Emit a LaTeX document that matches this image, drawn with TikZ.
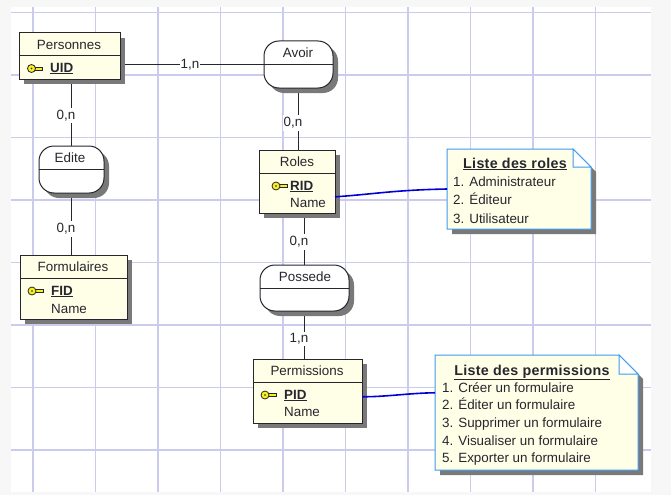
\documentclass[tikz,border=0pt]{standalone}
\usepackage{fontspec}
\setmainfont{Liberation Sans}
\usetikzlibrary{backgrounds,shadows}
\definecolor{gridcol}{HTML}{CBCBEE}
\definecolor{boxfill}{HTML}{FFFFE8}
\definecolor{inkcol}{HTML}{26262E}
\definecolor{notecol}{HTML}{3D9BF2}
\definecolor{keycol}{HTML}{F8EE20}
\tikzset{
	txt/.style={text=inkcol,inner sep=0pt,font=\fontsize{13.4}{15}\selectfont},
	shade5/.style={drop shadow={shadow xshift=5pt,shadow yshift=-5pt,fill=gray!95!black,opacity=1}},
	entity/.style={draw=inkcol,fill=boxfill,line width=1pt,inner sep=0pt,outer sep=0pt,shade5},
	assoc/.style={draw=inkcol,fill=white,line width=1pt,rounded corners=15pt,inner sep=0pt,outer sep=0pt,shade5},
	field/.style={txt,anchor=base west},
	keyfield/.style={txt,anchor=base west,font=\fontsize{13.4}{15}\selectfont\bfseries},
	notehead/.style={txt,anchor=base,font=\fontsize{14.3}{15}\selectfont\bfseries\addfontfeature{LetterSpace=2}},
	card/.style={txt,fill=white,inner xsep=1pt,inner ysep=2pt},
	link/.style={draw=inkcol,line width=1pt},
	notelink/.style={draw=blue!85!black,line width=1.6pt},
	notebox/.style={draw=notecol,fill=boxfill,line width=1pt,shade5},
	keyicon/.pic={
		\draw[inkcol,fill=keycol,line width=.6pt] (2,-1.7) rectangle (11,1.7);
		\draw[inkcol,fill=keycol,line width=.8pt] (0,0) circle (4);
		\fill[inkcol] (0,0) circle (.9);
	}
}

\begin{document}
\begin{tikzpicture}[x=1pt,y=-1pt]
\useasboundingbox (0,0) rectangle (671,495);

% entities and associations
\node[entity,minimum width=101pt,minimum height=46pt] (pers) at (69.5,56) {};
\node[assoc,minimum width=69pt,minimum height=47pt] (avoir) at (298.5,64.5) {};
\node[assoc,minimum width=65pt,minimum height=47pt] (edite) at (71.5,169.5) {};
\node[entity,minimum width=76pt,minimum height=63pt] (roles) at (297,181.5) {};
\node[entity,minimum width=107pt,minimum height=64pt] (form) at (73.5,287) {};
\node[assoc,minimum width=89pt,minimum height=46pt] (poss) at (304.5,288) {};
\node[entity,minimum width=109pt,minimum height=64pt] (perm) at (307.5,391) {};

% dividers
\draw[link] (pers.west) -- (pers.east);
\draw[link] (avoir.west) -- (avoir.east);
\draw[link] (edite.west) -- (edite.east);
\draw[link] (poss.west) -- (poss.east);
\draw[link] ([yshift=8pt]roles.west) -- ([yshift=8pt]roles.east);
\draw[link] ([yshift=9pt]form.west) -- ([yshift=9pt]form.east);
\draw[link] ([yshift=9pt]perm.west) -- ([yshift=9pt]perm.east);

% titles
\node[txt] (pers-title) at (69,44.5) {Personnes};
\node[txt] (avoir-title) at (298,53) {Avoir};
\node[txt] (edite-title) at (70,158) {Edite};
\node[txt] (roles-title) at (297,162) {Roles};
\node[txt] (form-title) at (73,267) {Formulaires};
\node[txt] (poss-title) at (305,277) {Possede};
\node[txt] (perm-title) at (307,371) {Permissions};

% keys and fields
\pic (pers-key) at (31.5,68.5) {keyicon};
\pic (roles-key) at (276,186) {keyicon};
\pic (form-key) at (32,291) {keyicon};
\pic (perm-key) at (265,395) {keyicon};
\node[keyfield] (uid) at (50,72) {\underline{UID}};
\node[keyfield] (rid) at (290,190) {\underline{RID}};
\node[field] (roles-name) at (290,207) {Name};
\node[keyfield] (fid) at (51,295) {\underline{FID}};
\node[field] (form-name) at (51,313) {Name};
\node[keyfield] (pid) at (284,399) {\underline{PID}};
\node[field] (perm-name) at (284,416) {Name};

% notes
\node[minimum width=144pt,minimum height=80pt,inner sep=0pt,outer sep=0pt] (noteroles) at (519,189) {};
\node[minimum width=203pt,minimum height=115pt,inner sep=0pt,outer sep=0pt] (noteperm) at (536.5,412.5) {};
\draw[notebox] (noteroles.north west) -- ++(126,0) -- ++(18,18) -- (noteroles.south east) -- (noteroles.south west) -- cycle;
\draw[notebox] (noteperm.north west) -- ++(184,0) -- ++(19,19) -- (noteperm.south east) -- (noteperm.south west) -- cycle;
\draw[draw=notecol,fill=white,line width=1pt] (noteroles.north east) ++(-18,0) -- ++(18,18) -- ++(-18,0) -- cycle;
\draw[draw=notecol,fill=white,line width=1pt] (noteperm.north east) ++(-19,0) -- ++(19,19) -- ++(-19,0) -- cycle;
\node[notehead] (roles-head) at (515,168) {\underline{Liste des roles}};
\node[field] (roles-a) at (453,186) {1. Administrateur};
\node[field] (roles-b) at (453,204.5) {2. Éditeur};
\node[field] (roles-c) at (453,223) {3. Utilisateur};
\node[notehead] (perm-head) at (532,375) {\underline{Liste des permissions}};
\node[field] (perm-a) at (442,392) {1. Créer un formulaire};
\node[field] (perm-b) at (442,409.5) {2. Éditer un formulaire};
\node[field] (perm-c) at (442,427) {3. Supprimer un formulaire};
\node[field] (perm-d) at (442,445) {4. Visualiser un formulaire};
\node[field] (perm-e) at (442,462) {5. Exporter un formulaire};

\draw[notelink] (roles.-22) .. controls (375,194) and (395,190) .. (noteroles.west);
\draw[notelink] (perm.-6) .. controls (385,397) and (410,393) .. (noteperm.169);

% grid and connectors go behind
\begin{scope}[on background layer]
\fill[black!3] (0,0) rectangle (671,495);
\fill[white] (11,7) rectangle (651,492);
\foreach \gx in {33,95.5,158,220.5,283,345.5,408,470.5,533,595.5}
	\draw[gridcol,line width=1.3pt] (\gx,7) -- (\gx,492);
\foreach \gy in {12.5,75,137.5,200,262.5,325,387.5,450}
	\draw[gridcol,line width=1.3pt] (11,\gy) -- (651,\gy);
\draw[link] (pers.east |- avoir.west) -- node[card,xshift=-2pt] (card-a) {1,n} (avoir.west);
\draw[link] (edite.north |- pers.south) -- node[card,xshift=-5.5pt,yshift=-3pt] (card-b) {0,n} (edite.north);
\draw[link] (edite.south) -- node[card,xshift=-5.5pt,yshift=-5pt] (card-c) {0,n} (edite.south |- form.north);
\draw[link] (avoir.south) -- node[card,xshift=-5.5pt,yshift=-4pt] (card-d) {0,n} (avoir.south |- roles.north);
\draw[link] (poss.north |- roles.south) -- node[card,xshift=-5.5pt,yshift=-3pt] (card-e) {0,n} (poss.north);
\draw[link] (poss.south) -- node[card,xshift=-5.5pt,yshift=-4pt] (card-f) {1,n} (poss.south |- perm.north);
\end{scope}
\end{tikzpicture}
\end{document}
